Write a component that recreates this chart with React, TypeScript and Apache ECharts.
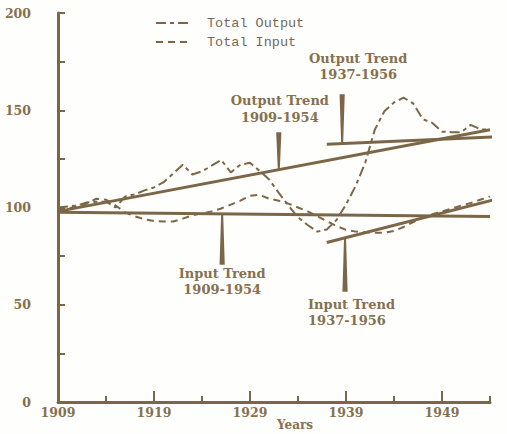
import React, { useEffect, useRef } from 'react';
import * as echarts from 'echarts';

const YEARS = [
  1909, 1910, 1911, 1912, 1913, 1914, 1915, 1916, 1917, 1918,
  1919, 1920, 1921, 1922, 1923, 1924, 1925, 1926, 1927, 1928,
  1929, 1930, 1931, 1932, 1933, 1934, 1935, 1936, 1937, 1938,
  1939, 1940, 1941, 1942, 1943, 1944, 1945, 1946, 1947, 1948,
  1949, 1950, 1951, 1952, 1953, 1954,
];

const TOTAL_OUTPUT = [
  100, 100.5, 101, 102.6, 103, 103, 100, 105.7, 106.7, 108.8,
  110.3, 113, 117.5, 122, 117, 118.6, 121.5, 124.5, 118, 122,
  123, 118.8, 114.4, 107.5, 101, 95, 91, 87.6, 88.7, 93.5,
  101.5, 111, 123, 140, 149.5, 154, 156.5, 153.5, 145.4, 143.5,
  139, 138.7, 138.7, 142.5, 140.2, 140,
];

const TOTAL_INPUT = [
  98.5, 99.5, 100.5, 102, 104.5, 104, 101, 97.5, 95.5, 94,
  93, 92.8, 92.8, 94.3, 96, 97, 98, 99.5, 101.5, 103.5,
  106, 106.5, 104.5, 103.5, 102, 100, 98, 95.5, 93, 90.5,
  88.5, 87.6, 87.2, 87, 87, 88, 90, 92.5, 94.8, 96.5,
  98, 99.5, 101, 102.3, 104, 105.7,
];

const OUTPUT_TREND_1909_1954 = [[1909, 98], [1954, 140]];
const OUTPUT_TREND_1937_1956 = [[1937, 132.5], [1956, 136.7]];
const INPUT_TREND_1909_1954 = [[1909, 97.5], [1954, 95.4]];
const INPUT_TREND_1937_1956 = [[1937, 82], [1956, 106]];

const X_LABEL_YEARS = [1909, 1919, 1929, 1939, 1949];
const X_MAJOR_TICKS = [1919, 1929, 1939, 1949];
const X_MINOR_TICKS = [1914, 1924, 1934, 1944, 1954];
const Y_LABELS = [0, 50, 100, 150, 200];

// Annotation pointers: [year, value at wide end, value at tip]
const NOTE_TITLES = ['Output Trend', 'Output Trend', 'Input Trend', 'Input Trend'];
const NOTE_PERIODS = ['1909-1954', '1937-1956', '1909-1954', '1937-1956'];
const NOTE_POINTERS = [
  [1932, 138.7, 119.5],
  [1938.6, 158.2, 133],
  [1926.1, 70.6, 96.6],
  [1938.9, 56.7, 84.4],
];

// Layout (pixels) of annotation text relative to pointer's wide end
const NOTE_LAYOUT = [
  { dx: 1, dy: -23, align: 'center' },
  { dx: 16, dy: -28, align: 'center' },
  { dx: 0, dy: 17, align: 'center' },
  { dx: -37, dy: 21, align: 'left' },
];

const LINE = '#7b6748';
const TEXT = '#85704f';
const LEGEND_TEXT = '#76685a';
const SERIF = '"DejaVu Serif", serif';

export default function App() {
  const ref = useRef<HTMLDivElement>(null);

  useEffect(() => {
    if (!ref.current) return;
    const chart = echarts.init(ref.current, undefined, { renderer: 'svg' });

    const outputData = YEARS.map((y, i) => [y, TOTAL_OUTPUT[i]]);
    const inputData = YEARS.map((y, i) => [y, TOTAL_INPUT[i]]);

    const trend = (name: string, data: number[][]) => ({
      name,
      type: 'line',
      data,
      symbol: 'none',
      clip: false,
      silent: true,
      lineStyle: { color: LINE, width: 3, type: 'solid' },
      z: 3,
    });

    const option: any = {
      animation: false,
      backgroundColor: '#fefefc',
      grid: { left: 58, right: 17, top: 13, bottom: 32, containLabel: false, outerBoundsMode: 'none' },
      legend: {
        data: ['Total Output', 'Total Input'],
        orient: 'vertical',
        left: 150,
        top: 11,
        itemWidth: 34,
        itemHeight: 12,
        itemGap: 5,
        selectedMode: false,
        itemStyle: { opacity: 0 },
        textStyle: {
          fontFamily: '"Liberation Mono", monospace',
          fontSize: 13.5,
          color: LEGEND_TEXT,
          padding: [0, 0, 0, 12],
        },
      },
      xAxis: [
        {
          type: 'value',
          min: 1909,
          max: 1954,
          name: 'Years',
          nameLocation: 'middle',
          nameGap: 17,
          nameMoveOverlap: false,
          nameTextStyle: {
            fontFamily: SERIF,
            fontWeight: 'bold',
            fontSize: 12,
            lineHeight: 12,
            color: TEXT,
            padding: [0, 0, 0, 42],
          },
          axisLine: { show: true, lineStyle: { color: LINE, width: 3 } },
          axisTick: {
            show: true,
            inside: true,
            length: 6,
            customValues: X_MINOR_TICKS,
            lineStyle: { color: LINE, width: 2 },
          },
          axisLabel: {
            customValues: X_LABEL_YEARS,
            formatter: (v: number) => String(v),
            margin: 4,
            fontFamily: SERIF,
            fontWeight: 'bold',
            fontSize: 12.5,
            color: TEXT,
          },
          splitLine: { show: false },
        },
        {
          type: 'value',
          min: 1909,
          max: 1954,
          position: 'bottom',
          axisLine: { show: false },
          axisTick: {
            show: true,
            inside: true,
            length: 11,
            customValues: X_MAJOR_TICKS,
            lineStyle: { color: LINE, width: 2 },
          },
          axisLabel: { show: false },
          splitLine: { show: false },
        },
      ],
      yAxis: {
        type: 'value',
        min: 0,
        max: 200,
        interval: 25,
        axisLine: { show: true, lineStyle: { color: LINE, width: 3 } },
        axisTick: { show: true, inside: true, length: 7, lineStyle: { color: LINE, width: 2 } },
        axisLabel: {
          formatter: (v: number) => (Y_LABELS.includes(v) ? String(v) : ''),
          margin: 27,
          fontFamily: SERIF,
          fontWeight: 'bold',
          fontSize: 12.5,
          color: TEXT,
        },
        splitLine: { show: false },
      },
      series: [
        {
          name: 'Total Output',
          type: 'line',
          data: outputData,
          symbol: 'none',
          lineStyle: { color: LINE, width: 2, type: [10, 4, 4, 4] },
          itemStyle: { color: LINE },
          z: 4,
        },
        {
          name: 'Total Input',
          type: 'line',
          data: inputData,
          symbol: 'none',
          lineStyle: { color: LINE, width: 2, type: [7, 5] },
          itemStyle: { color: LINE },
          z: 4,
        },
        trend('Output Trend 1909-1954', OUTPUT_TREND_1909_1954),
        trend('Output Trend 1937-1956', OUTPUT_TREND_1937_1956),
        trend('Input Trend 1909-1954', INPUT_TREND_1909_1954),
        trend('Input Trend 1937-1956', INPUT_TREND_1937_1956),
        {
          name: 'Notes',
          type: 'custom',
          data: NOTE_POINTERS,
          silent: true,
          z: 5,
          renderItem: (params: any, api: any) => {
            const i = params.dataIndex;
            const x = api.value(0);
            const wide = api.coord([x, api.value(1)]);
            const tip = api.coord([x, api.value(2)]);
            const lay = NOTE_LAYOUT[i];
            return {
              type: 'group',
              children: [
                {
                  type: 'polygon',
                  shape: {
                    points: [
                      [wide[0] - 2.6, wide[1]],
                      [wide[0] + 2.6, wide[1]],
                      [tip[0] + 1, tip[1]],
                      [tip[0] - 1, tip[1]],
                    ],
                  },
                  style: { fill: LINE },
                },
                {
                  type: 'text',
                  x: wide[0] + lay.dx,
                  y: wide[1] + lay.dy,
                  style: {
                    text: NOTE_TITLES[i] + '\n' + NOTE_PERIODS[i],
                    fill: TEXT,
                    font: 'bold 13px ' + SERIF,
                    lineHeight: 16.5,
                    align: lay.align,
                    verticalAlign: 'middle',
                  },
                },
              ],
            };
          },
        },
      ],
    };

    chart.setOption(option);
    return () => chart.dispose();
  }, []);

  return (
    <div
      ref={ref}
      style={{ position: 'fixed', left: 0, top: 0, width: 507, height: 434, background: '#fefefc' }}
    />
  );
}
